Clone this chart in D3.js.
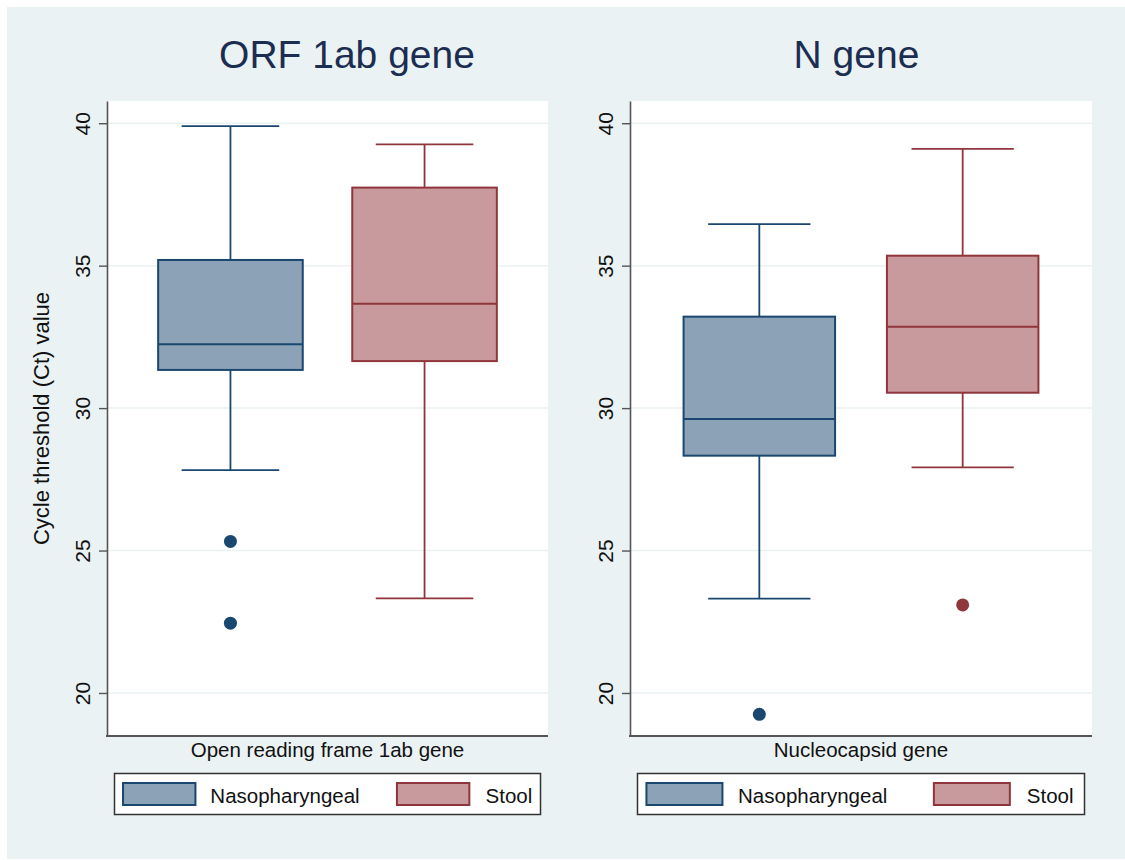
<!DOCTYPE html>
<html>
<head>
<meta charset="utf-8">
<script src="https://cdn.jsdelivr.net/npm/d3@7"></script>
<style>
  body { margin: 0; background: #fff; }
  text { font-family: "Liberation Sans", Arial, Helvetica, sans-serif; fill: #111; }
</style>
</head>
<body>
<div id="chart"></div>
<script>
// box plot data (Ct values)
var groups = ["Nasopharyngeal", "Stool"];
var geneTitles = ["ORF 1ab gene", "N gene"];
var xTitles = ["Open reading frame 1ab gene", "Nucleocapsid gene"];
var yTicks = [20, 25, 30, 35, 40];

// ORF 1ab gene
var orfLow = [27.82, 23.32],
    orfQ1 = [31.34, 31.65],
    orfMed = [32.24, 33.66],
    orfQ3 = [35.2, 37.74],
    orfHigh = [39.9, 39.26],
    orfOut = [[25.32, 22.45], []];

// N gene
var nLow = [23.31, 27.92],
    nQ1 = [28.33, 30.54],
    nMed = [29.62, 32.86],
    nQ3 = [33.21, 35.35],
    nHigh = [36.46, 39.1],
    nOut = [[19.25], [23.09]];

var width = 1125, height = 860;
var strokeCol = ["#1a476f", "#90353b"],
    fillCol = ["#8ca3b7", "#c89a9d"],
    bg = "#eaf2f3";

function stats(lo, q1, md, q3, hi, out) {
  return groups.map(function(g, i) {
    return {group: g, i: i, low: lo[i], q1: q1[i], med: md[i], q3: q3[i], high: hi[i], out: out[i]};
  });
}

var panels = [
  {x0: 107, x1: 548, titleX: 347, title: geneTitles[0], xTitle: xTitles[0], yTitle: true,
   data: stats(orfLow, orfQ1, orfMed, orfQ3, orfHigh, orfOut)},
  {x0: 630, x1: 1092, titleX: 856.5, title: geneTitles[1], xTitle: xTitles[1], yTitle: false,
   data: stats(nLow, nQ1, nMed, nQ3, nHigh, nOut)}
];

var svg = d3.select("#chart").append("svg")
    .attr("width", width)
    .attr("height", height);

svg.append("rect")
    .attr("x", 7).attr("y", 7)
    .attr("width", width - 7).attr("height", 852)
    .attr("fill", bg);

var y = d3.scaleLinear()
    .domain([18.49, 40.78])
    .range([736, 101]);

panels.forEach(function(p) {
  var g = svg.append("g");

  var x = d3.scaleBand()
      .domain(groups)
      .range([p.x0, p.x1])
      .paddingInner(0.255)
      .paddingOuter(0.2635);
  var bw = x.bandwidth(), cap = bw * 0.675;

  // plot region
  g.append("rect")
      .attr("x", p.x0).attr("y", y.range()[1])
      .attr("width", p.x1 - p.x0).attr("height", y.range()[0] - y.range()[1])
      .attr("fill", "#fff");

  // grid
  g.selectAll(".grid").data(yTicks).enter().append("line")
      .attr("x1", p.x0).attr("x2", p.x1)
      .attr("y1", function(d) { return y(d); })
      .attr("y2", function(d) { return y(d); })
      .attr("stroke", bg)
      .attr("stroke-width", 1.5);

  // title
  g.append("text")
      .attr("x", p.titleX).attr("y", 68)
      .attr("text-anchor", "middle")
      .style("font-size", "39px")
      .style("fill", "#1c2d52")
      .text(p.title);

  // y axis
  var yAxis = d3.axisLeft(y).tickValues(yTicks).tickSize(8).tickSizeOuter(0);
  var ax = g.append("g")
      .attr("transform", "translate(" + p.x0 + ",0)")
      .call(yAxis);
  ax.select(".domain").attr("stroke", "#555").attr("stroke-width", 1.6);
  ax.selectAll(".tick line").attr("stroke", "#555").attr("stroke-width", 1.4);
  ax.selectAll(".tick text")
      .attr("x", null).attr("dy", null)
      .attr("transform", "translate(-17,0) rotate(-90)")
      .attr("text-anchor", "middle")
      .style("font-size", "21px")
      .style("font-family", "'Liberation Sans', Arial, sans-serif")
      .style("fill", "#111");

  // bottom axis line
  g.append("line")
      .attr("x1", p.x0 - 1).attr("x2", p.x1)
      .attr("y1", y.range()[0]).attr("y2", y.range()[0])
      .attr("stroke", "#555").attr("stroke-width", 2);

  if (p.yTitle) {
    g.append("text")
        .attr("transform", "translate(49," + (y.range()[0] + y.range()[1]) / 2 + ") rotate(-90)")
        .attr("text-anchor", "middle")
        .style("font-size", "22px")
        .text("Cycle threshold (Ct) value");
  }

  g.append("text")
      .attr("x", (p.x0 + p.x1) / 2).attr("y", 756.5)
      .attr("text-anchor", "middle")
      .style("font-size", "20.5px")
      .text(p.xTitle);

  // boxes
  var box = g.selectAll(".box").data(p.data).enter().append("g");
  box.each(function(d) {
    var b = d3.select(this);
    var cx = x(d.group) + bw / 2;
    var sc = strokeCol[d.i];
    // whiskers
    b.append("line").attr("x1", cx).attr("x2", cx)
        .attr("y1", y(d.q3)).attr("y2", y(d.high))
        .attr("stroke", sc).attr("stroke-width", 1.8);
    b.append("line").attr("x1", cx).attr("x2", cx)
        .attr("y1", y(d.q1)).attr("y2", y(d.low))
        .attr("stroke", sc).attr("stroke-width", 1.8);
    b.append("line").attr("x1", cx - cap / 2).attr("x2", cx + cap / 2)
        .attr("y1", y(d.high)).attr("y2", y(d.high))
        .attr("stroke", sc).attr("stroke-width", 1.8);
    b.append("line").attr("x1", cx - cap / 2).attr("x2", cx + cap / 2)
        .attr("y1", y(d.low)).attr("y2", y(d.low))
        .attr("stroke", sc).attr("stroke-width", 1.8);
    b.append("rect")
        .attr("x", x(d.group)).attr("width", bw)
        .attr("y", y(d.q3)).attr("height", y(d.q1) - y(d.q3))
        .attr("fill", fillCol[d.i])
        .attr("stroke", sc).attr("stroke-width", 2);
    b.append("line").attr("x1", x(d.group)).attr("x2", x(d.group) + bw)
        .attr("y1", y(d.med)).attr("y2", y(d.med))
        .attr("stroke", sc).attr("stroke-width", 2);
    b.selectAll("circle").data(d.out).enter().append("circle")
        .attr("cx", cx).attr("cy", function(v) { return y(v); })
        .attr("r", 6.5)
        .attr("fill", sc);
  });

  // legend
  var lx = p.x0 + 7.5, lw = (p.x1 - p.x0) - 15;
  var lg = g.append("g").attr("transform", "translate(" + lx + ",773.5)");
  lg.append("rect")
      .attr("width", lw).attr("height", 41)
      .attr("fill", "#fff")
      .attr("stroke", "#333").attr("stroke-width", 1.5);
  var swX = [0.02, 0.663], txX = [0.225, 0.871];
  groups.forEach(function(gr, i) {
    lg.append("rect")
        .attr("x", lw * swX[i]).attr("y", 9.5)
        .attr("width", lw * 0.17).attr("height", 22)
        .attr("fill", fillCol[i])
        .attr("stroke", strokeCol[i]).attr("stroke-width", 2);
    lg.append("text")
        .attr("x", lw * txX[i]).attr("y", 29)
        .style("font-size", "20.5px")
        .text(gr);
  });
});
</script>
</body>
</html>
